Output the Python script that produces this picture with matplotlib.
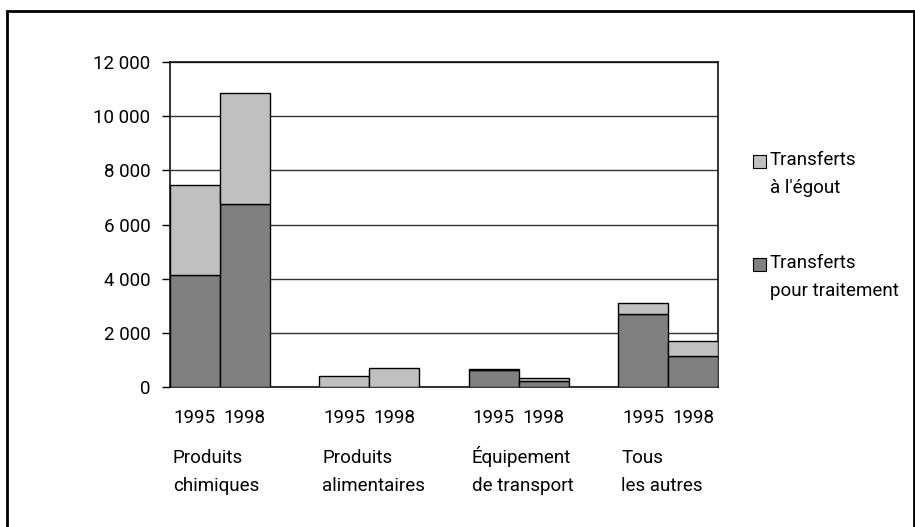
import matplotlib.pyplot as plt
from matplotlib.patches import Rectangle
from matplotlib.ticker import FuncFormatter
import matplotlib.transforms as mtransforms

plt.rcParams['font.family'] = ['Roboto', 'DejaVu Sans']

# Data
categories = ['Produits\nchimiques', 'Produits\nalimentaires',
              'Équipement\nde transport', 'Tous\nles autres']
years = ['1995', '1998']
traitement = [4150, 6750, 0, 0, 620, 240, 2710, 1135]
egout = [3300, 4100, 400, 700, 60, 110, 400, 565]
series_labels = ['Transferts\nà l\'égout', 'Transferts\npour traitement']

light = '#c0c0c0'
dark = '#808080'
fs = 13.5

W, H = 915, 527
fig = plt.figure(figsize=(W / 100, H / 100), dpi=100)
ax = fig.add_axes([170 / W, (H - 387) / H, 548 / W, 325 / H])

# bar positions: two bars per group, one empty slot between groups
xpos = []
for g in range(len(categories)):
    xpos += [g * 3 + 0.5, g * 3 + 1.5]

ax.bar(xpos, traitement, width=1.0, color=dark, edgecolor='black', linewidth=1, zorder=3)
ax.bar(xpos, egout, bottom=traitement, width=1.0, color=light, edgecolor='black',
       linewidth=1, zorder=3)

ax.set_xlim(0, 11)
ax.set_ylim(0, 12000)
ax.set_yticks(range(0, 12001, 2000))
ax.yaxis.set_major_formatter(FuncFormatter(lambda v, p: f'{int(v):,}'.replace(',', ' ')))
ax.grid(axis='y', color='#333333', linewidth=1, zorder=0)

ax.set_xticks(xpos)
ax.set_xticklabels(years * len(categories))
ax.tick_params(axis='x', length=0, pad=16, labelsize=fs)
ax.tick_params(axis='y', length=6, width=1, direction='out', pad=8, labelsize=fs)
for s in ax.spines.values():
    s.set_linewidth(1.2)
    s.set_color('#111111')

# group names under the years (baseline of the second line)
trans = mtransforms.blended_transform_factory(ax.transData, fig.transFigure)
for g, name in enumerate(categories):
    ax.text(g * 3 + 0.06, (H - 491) / H, name, transform=trans, ha='left',
            va='baseline', fontsize=fs, linespacing=1.7)

# legend
colors = [light, dark]
for i, (lab, c) in enumerate(zip(series_labels, colors)):
    yc = (H - 161 - i * 103) / H
    fig.add_artist(Rectangle((753 / W, yc - 6.5 / H), 13 / W, 13 / H,
                             transform=fig.transFigure, facecolor=c,
                             edgecolor='black', linewidth=0.8))
    fig.text(770 / W, yc - 32 / H, lab, ha='left', va='baseline', fontsize=fs,
             linespacing=1.7)

# outer frame
fig.add_artist(Rectangle((7 / W, -0.05), 907 / W, (H - 11) / H + 0.05,
                         transform=fig.transFigure, fill=False,
                         edgecolor='black', linewidth=2, clip_on=False))

fig.savefig('out.png', dpi=100)
